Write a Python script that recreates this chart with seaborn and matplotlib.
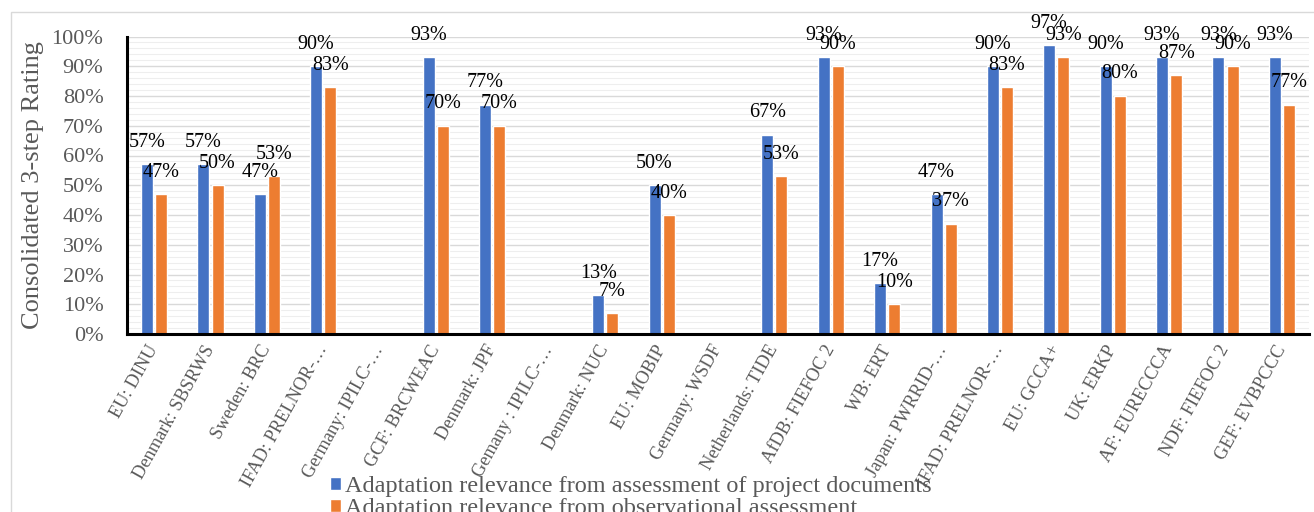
import numpy as np
import pandas as pd
import matplotlib
matplotlib.use("Agg")
import matplotlib.pyplot as plt
from matplotlib.patches import Rectangle
from matplotlib.ticker import MultipleLocator, PercentFormatter
import seaborn as sns

nan = np.nan

# Projects (donor: project acronym), in chart order
projects = [
    "EU: DINU", "Denmark: SBSRWS", "Sweden: BRC", "IFAD: PRELNOR-…",
    "Germany: IPILC-…", "GCF: BRCWEAC", "Denmark: JPF", "Gemany : IPILC-…",
    "Denmark: NUC", "EU: MOBIP", "Germany: WSDF", "Netherlands: TIDE",
    "AfDB: FIEFOC 2", "WB: ERT", "Japan: PWRRID-…", "IFAD: PRELNOR-…",
    "EU: GCCA+", "UK: ERKP", "AF: EURECCCA", "NDF: FIEFOC 2", "GEF: EVBPCCC",
]

# Ratings in percent (blank = not rated)
doc_rating = [57, 57, 47, 90, nan, 93, 77, nan, 13, 50, nan,
              67, 93, 17, 47, 90, 97, 90, 93, 93, 93]
obs_rating = [47, 50, 53, 83, nan, 70, 70, nan, 7, 40, nan,
              53, 90, 10, 37, 83, 93, 80, 87, 90, 77]

series_names = [
    "Adaptation relevance from assessment of project documents",
    "Adaptation relevance from observational assessment",
]

BLUE = "#4472C4"
ORANGE = "#ED7D31"
GREY_TEXT = "#595959"

sns.set_style("white")
plt.rcParams["font.family"] = ["Liberation Serif", "DejaVu Serif"]

W, H, DPI = 1314, 512, 100
fig = plt.figure(figsize=(W / DPI, H / DPI), dpi=DPI)
ax = fig.add_axes([127 / W, 1 - 334 / H, (1309 - 127) / W, (334 - 36.5) / H])

n = len(projects)
df = pd.DataFrame({
    "slot": np.tile(np.arange(n), 2),
    "rating": doc_rating + obs_rating,
    "series": np.repeat(series_names, n),
})

sns.barplot(
    data=df, x="slot", y="rating", hue="series",
    order=list(range(n)), hue_order=series_names,
    palette=[BLUE, ORANGE], saturation=1,
    width=0.5, gap=0.15, errorbar=None, ax=ax,
)

# value labels above bars
for cont in ax.containers:
    ax.bar_label(cont, fmt="{:.0f}%", padding=9, fontsize=14.5, color="black")

# axes styling
ax.set_ylim(0, 100)
ax.set_xlim(-0.48, n - 1 + 0.48)
ax.yaxis.set_major_locator(MultipleLocator(10))
ax.yaxis.set_minor_locator(MultipleLocator(2))
ax.yaxis.set_major_formatter(PercentFormatter(100, decimals=0))
ax.set_axisbelow(True)
ax.grid(which="major", axis="y", color="#d9d9d9", lw=1.0)
ax.grid(which="minor", axis="y", color="#eeeeee", lw=0.8)
ax.grid(which="both", axis="x", visible=False)

for side in ("top", "right"):
    ax.spines[side].set_visible(False)
for side in ("left", "bottom"):
    ax.spines[side].set_color("black")
    ax.spines[side].set_linewidth(2.2)

ax.tick_params(axis="y", which="both", length=0, pad=17, labelsize=16, labelcolor=GREY_TEXT)
ax.tick_params(axis="x", length=0, pad=9)
ax.set_xticks(range(n))
ax.set_xticklabels(projects, rotation=61, ha="right", va="center",
                   rotation_mode="anchor", fontsize=13.2, color=GREY_TEXT)

ax.set_xlabel("")
ax.set_ylabel("Consolidated 3-step Rating", fontsize=19, color=GREY_TEXT)
ax.yaxis.set_label_coords(-0.070, 0.5)

# legend below the plot
handles, labels = ax.get_legend_handles_labels()
if ax.get_legend() is not None:
    ax.get_legend().remove()
fig.legend(handles, labels, loc="upper left", bbox_to_anchor=(330 / W, 1 - 476 / H),
           frameon=False, fontsize=17.5, labelcolor=GREY_TEXT,
           handlelength=0.45, handleheight=0.45, handletextpad=0.15,
           labelspacing=0.05, borderpad=0, borderaxespad=0)

# chart-area frame
fig.add_artist(Rectangle((11 / W, -0.5), 2, 1 - 12 / H + 0.5, transform=fig.transFigure,
                         fill=False, edgecolor="#d9d9d9", lw=1))

fig.savefig("out.png", dpi=DPI)
